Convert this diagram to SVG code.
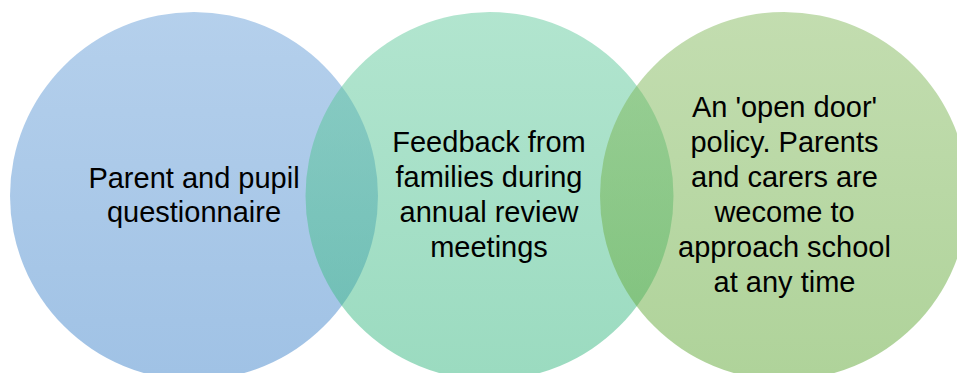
<svg xmlns="http://www.w3.org/2000/svg" width="957" height="373" viewBox="0 0 957 373">
<defs>
<linearGradient id="g1" x1="0" y1="0" x2="0" y2="1">
<stop offset="0" stop-color="#6ba1d9"/>
<stop offset="1" stop-color="#4185cb"/>
</linearGradient>
<linearGradient id="g2" x1="0" y1="0" x2="0" y2="1">
<stop offset="0" stop-color="#65cb9f"/>
<stop offset="1" stop-color="#37b781"/>
</linearGradient>
<linearGradient id="g3" x1="0" y1="0" x2="0" y2="1">
<stop offset="0" stop-color="#87bb61"/>
<stop offset="1" stop-color="#5fa735"/>
</linearGradient>
<style>
.c{fill-opacity:0.5;stroke:none}
.t{font-family:"Liberation Sans",Arial,sans-serif;font-size:29px;fill:#000;text-anchor:middle}
</style>
</defs>
<rect width="957" height="373" fill="#ffffff"/>
<g id="node1">
<circle class="c" cx="194" cy="196" r="184" fill="url(#g1)"/>
<text class="t" x="194"><tspan x="194" y="188">Parent and pupil</tspan><tspan x="194" y="222">questionnaire</tspan></text>
</g>
<g id="node2">
<circle class="c" cx="489.5" cy="196" r="184" fill="url(#g2)"/>
<text class="t"><tspan x="489" y="152">Feedback from</tspan><tspan x="489" y="187">families during</tspan><tspan x="489" y="222">annual review</tspan><tspan x="489" y="257">meetings</tspan></text>
</g>
<g id="node3">
<circle class="c" cx="784" cy="196" r="184" fill="url(#g3)"/>
<text class="t"><tspan x="784.5" y="117">An 'open door'</tspan><tspan x="784.5" y="152">policy. Parents</tspan><tspan x="784.5" y="187">and carers are</tspan><tspan x="784.5" y="222">wecome to</tspan><tspan x="784.5" y="257">approach school</tspan><tspan x="784.5" y="292">at any time</tspan></text>
</g>
<g id="connectors"></g>
</svg>
